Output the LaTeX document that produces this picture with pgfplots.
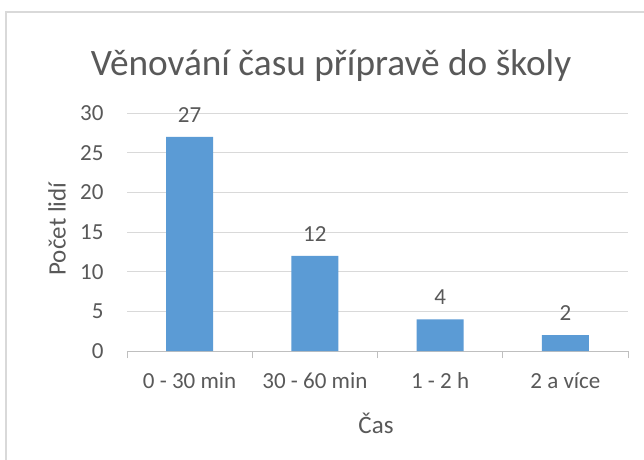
\documentclass[border=0pt]{standalone}
\usepackage{fontspec}
\setmainfont{Carlito}
\usepackage{pgfplots}
\pgfplotsset{compat=1.18}
\definecolor{txt}{HTML}{595959}
\definecolor{grid}{HTML}{D9D9D9}
\definecolor{axl}{HTML}{BFBFBF}
\definecolor{bar}{HTML}{5B9BD5}
\begin{document}
\begin{tikzpicture}[x=1pt,y=1pt]
\clip (0,0) rectangle (644,459);
\fill[white] (0,0) rectangle (644,459);
\draw[grid, line width=1.2pt] (6,-20) -- (6,447) -- (670,447);
\node[txt, font=\fontsize{37.3}{42}\selectfont, anchor=base] at (331,459-75) {Věnování času přípravě do školy};
\node[txt, font=\fontsize{25}{30}\selectfont, rotate=90] at (57,459-229) {Počet lidí};
\node[txt, font=\fontsize{25}{30}\selectfont] at (376,459-423) {Čas};
\begin{axis}[
  at={(127pt,108pt)}, anchor=south west,
  scale only axis, width=501pt, height=238pt,
  xmin=-0.5, xmax=3.5, ymin=0, ymax=30,
  ytick={0,5,...,30},
  xtick={0,1,2,3},
  xticklabels={0 - 30 min,30 - 60 min,1 - 2 h,2 a více},
  minor xtick={-0.5,0.5,1.5,2.5,3.5},
  tick align=outside,
  major tick length=0pt,
  minor tick length=7pt,
  xtick style={draw=none},
  minor x tick style={draw=axl, line width=1pt},
  ytick style={draw=none},
  ymajorgrids, grid style={draw=grid, line width=1pt},
  separate axis lines,
  axis x line*=bottom, axis y line*=left,
  x axis line style={draw=axl, line width=1pt, -},
  y axis line style={draw=none},
  ticklabel style={txt, font=\fontsize{23}{27}\selectfont},
  yticklabel style={xshift=-20pt},
  xticklabel style={yshift=-18pt},
  /pgf/number format/assume math mode=true,
  ybar, bar width=47pt,
  nodes near coords,
  every node near coord/.append style={txt, font=\fontsize{23}{27}\selectfont, yshift=11pt},
]
\addplot[fill=bar, draw=none] coordinates {(0,27) (1,12) (2,4) (3,2)};
\end{axis}
\end{tikzpicture}
\end{document}
